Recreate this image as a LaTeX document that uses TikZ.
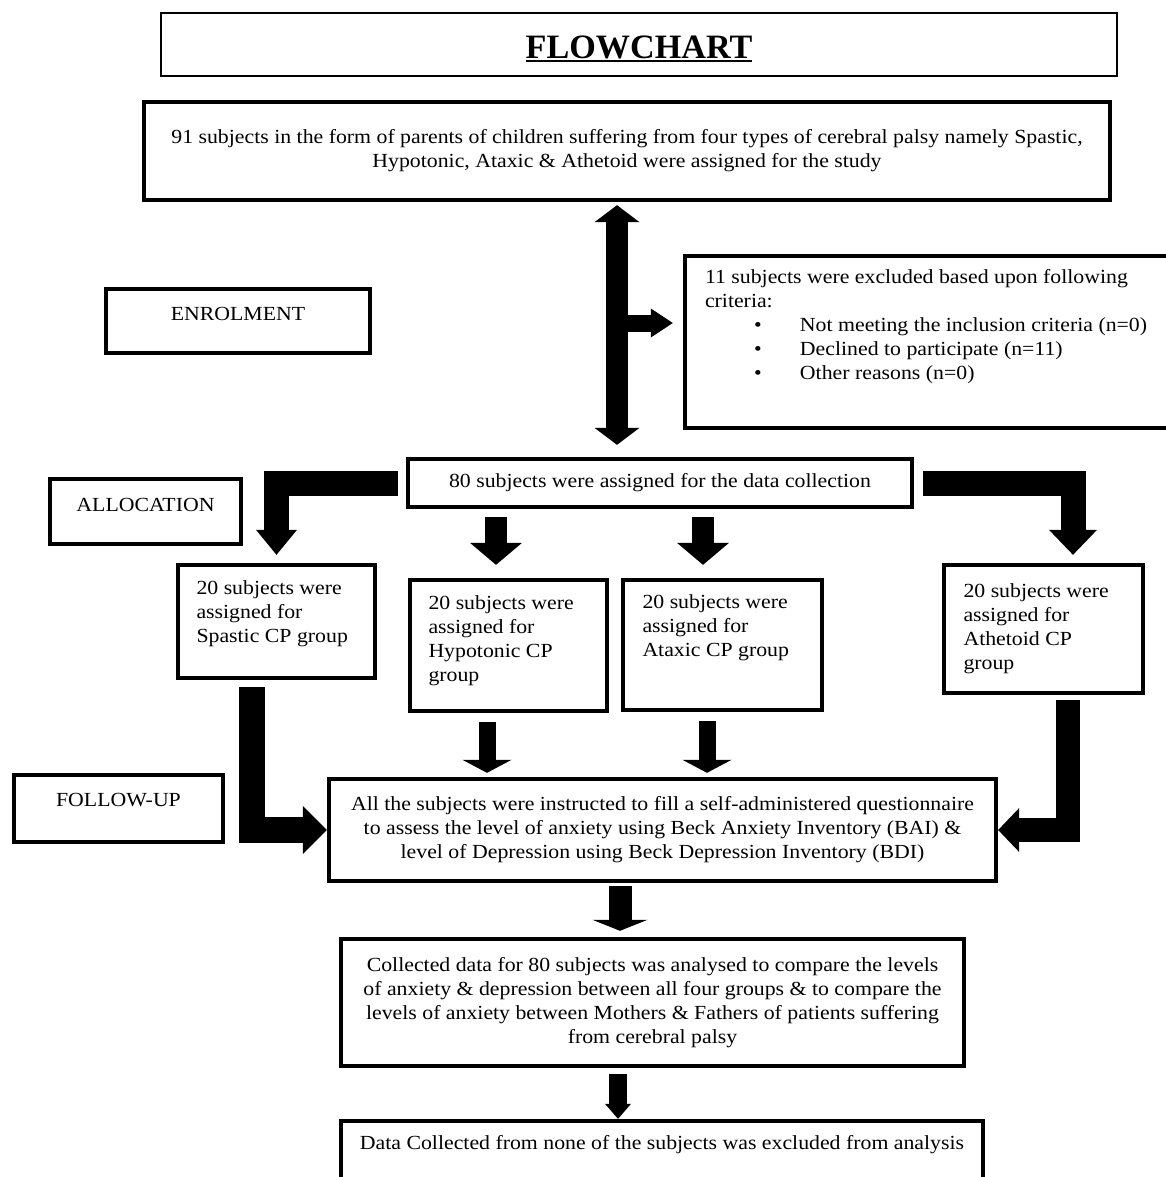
\documentclass[tikz,border=0pt]{standalone}
\usepackage{fontspec}
\setmainfont{Liberation Serif}[FakeStretch=1.09]
\newfontfamily\titlefont{Liberation Serif}
\usetikzlibrary{arrows.meta}
\usetikzlibrary{positioning}
\usetikzlibrary{calc}

\newcommand{\headline}[1]{{\setbox0=\hbox{\titlefont\bfseries #1}\rlap{\copy0}\rule[-2.4pt]{\wd0}{1.5pt}}}
\newcommand{\critline}[1]{\makebox[57pt][l]{\hspace*{29.4pt}\textbullet}#1}

\tikzset{
	fat/.style={line width=#1,line cap=butt,line join=miter},
	blockhead/.style 2 args={-{Triangle[width=#1,length=#2,line width=0pt]}},
	twohead/.style 2 args={{Triangle[width=#1,length=#2,line width=0pt]}-{Triangle[width=#1,length=#2,line width=0pt]}},
	liftup/.style={text depth=#1}
}

\begin{document}
\begin{tikzpicture}[x=0.6pt,y=-0.6pt,font=\fontsize{12}{14.4}\selectfont]
	\tikzstyle{panel}=[draw,line width=2.6pt,inner sep=0pt,align=center]
	\tikzstyle{cpbox}=[panel,align=flush left,text width=96pt,minimum width=118pt]
	
	\useasboundingbox (0,0) rectangle (1166,1177);
	
	\node[draw,line width=0.9pt,minimum width=573.6pt,minimum height=37.8pt,text height=18.6pt,
		font=\fontsize{20.5}{24}\selectfont] (title) at (639,44.5) {\headline{FLOWCHART}};
	
	\node[panel,minimum width=579.6pt,minimum height=58.8pt] (study) at (627,151)
		{91 subjects in the form of parents of children suffering from four types of cerebral palsy namely Spastic,\\
		Hypotonic, Ataxic \& Athetoid were assigned for the study};
	\node[panel,minimum width=158.4pt,minimum height=38.4pt,liftup=8.4pt] (enrol) at (238,321) {ENROLMENT};
	\node[panel,align=flush left,text width=282pt,minimum width=306pt,minimum height=103.2pt,liftup=78.8pt] (exclude) at (940,342)
		{11 subjects were excluded based upon following\\
		criteria:\\
		\critline{Not meeting the inclusion criteria (n=0)}\\
		\critline{Declined to participate (n=11)}\\
		\critline{Other reasons (n=0)}};
	
	\node[panel,minimum width=302.4pt,minimum height=28.8pt] (assigned) at (660,483) {80 subjects were assigned for the data collection};
	\node[panel,minimum width=114.6pt,minimum height=39pt,liftup=7.8pt] (alloc) at (145.5,511.5) {ALLOCATION};
	
	\node[cpbox,minimum height=67.8pt,liftup=40.4pt] (spastic) at (276.5,621.5) {20 subjects were\\assigned for\\Spastic CP group};
	\node[cpbox,minimum height=78.6pt,liftup=51.2pt] (hypo) at (508.5,645.5) {20 subjects were\\assigned for\\Hypotonic CP\\group};
	\node[cpbox,minimum width=119.4pt,minimum height=78pt,liftup=51.8pt] (ataxic) at (722.5,645) {20 subjects were\\assigned for\\Ataxic CP group};
	\node[cpbox,minimum width=119.4pt,minimum height=76.8pt] (athetoid) at (1043.5,629) {20 subjects were\\assigned for\\Athetoid CP\\group};
	
	\node[panel,minimum width=125.4pt,minimum height=40.2pt,liftup=10.2pt] (followup) at (118.5,808.5) {FOLLOW-UP};
	\node[panel,minimum width=400.2pt,minimum height=61.2pt] (quest) at (662.5,830)
		{All the subjects were instructed to fill a self-administered questionnaire\\
		to assess the level of anxiety using Beck Anxiety Inventory (BAI) \&\\
		level of Depression using Beck Depression Inventory (BDI)};
	\node[panel,minimum width=373.8pt,minimum height=76.2pt] (collected) at (652.5,1002.5)
		{Collected data for 80 subjects was analysed to compare the levels\\
		of anxiety \& depression between all four groups \& to compare the\\
		levels of anxiety between Mothers \& Fathers of patients suffering\\
		from cerebral palsy};
	\node[panel,minimum width=385.2pt,minimum height=43.2pt,liftup=17pt] (final) at (662,1157)
		{Data Collected from none of the subjects was excluded from analysis};
	
	% enrolment
	\coordinate (spine) at (617,323);
	\draw[fat=13.2pt,twohead={27pt}{10.2pt},shorten <=1.8pt,shorten >=7.2pt] (study.south -| spine) -- (assigned.north -| spine);
	\draw[fat=10.2pt,blockhead={17.4pt}{13.2pt},shorten >=6pt] (spine) -- (spine -| exclude.west);
	
	% allocation
	\coordinate (athetoidin) at ($(athetoid.north)+(29.5,0)$);
	\coordinate (hypoin) at ($(hypo.north)+(-12.5,0)$);
	\coordinate (ataxicin) at ($(ataxic.north)+(-19.5,0)$);
	\draw[fat=15pt,blockhead={24.6pt}{15pt},shorten <=4.8pt,shorten >=4.8pt] (assigned.west) -| (spastic.north);
	\draw[fat=15pt,blockhead={28.8pt}{15pt},shorten <=5.4pt,shorten >=4.8pt] (assigned.east) -| (athetoidin);
	\draw[fat=13.2pt,blockhead={31.2pt}{13.2pt},shorten <=4.8pt,shorten >=7.8pt] (assigned.south -| hypoin) -- (hypoin);
	\draw[fat=13.2pt,blockhead={31.2pt}{13.2pt},shorten <=4.8pt,shorten >=7.8pt] (assigned.south -| ataxicin) -- (ataxicin);
	
	% follow-up
	\coordinate (spasticout) at ($(spastic.south)+(-24.5,0)$);
	\coordinate (hypoout) at ($(hypo.south)+(-21.5,0)$);
	\coordinate (ataxicout) at ($(ataxic.south)+(-15.5,0)$);
	\coordinate (athetoidout) at ($(athetoid.south)+(24.5,0)$);
	\draw[fat=15.6pt,blockhead={28.8pt}{14.4pt},shorten <=4.2pt] (spasticout) |- (quest.west);
	\draw[fat=10.2pt,blockhead={29.4pt}{7.8pt},shorten <=5.4pt,shorten >=2.4pt] (hypoout) -- (hypoout |- quest.north);
	\draw[fat=10.2pt,blockhead={29.4pt}{7.8pt},shorten <=5.4pt,shorten >=2.4pt] (ataxicout) -- (ataxicout |- quest.north);
	\draw[fat=14.4pt,blockhead={26.4pt}{12.6pt},shorten <=3pt] (athetoidout) |- (quest.east);
	
	% analysis
	\coordinate (questout) at ($(quest.south)+(-42.5,0)$);
	\coordinate (collectedout) at ($(collected.south)+(-34.5,0)$);
	\draw[fat=13.8pt,blockhead={33pt}{6.6pt},shorten <=1.8pt,shorten >=3.6pt] (questout) -- (questout |- collected.north);
	\draw[fat=10.8pt,blockhead={15.6pt}{9pt},shorten <=3.6pt] (collectedout) -- (collectedout |- final.north);
\end{tikzpicture}
\end{document}
